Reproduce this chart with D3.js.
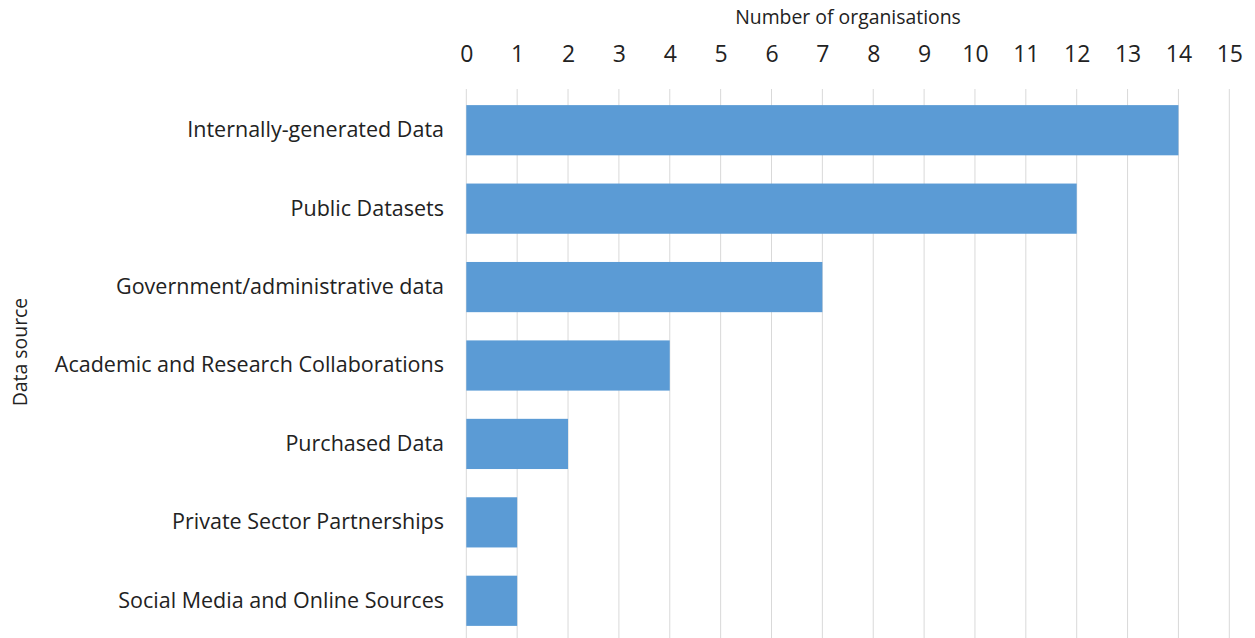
<!DOCTYPE html>
<html>
<head>
<meta charset="utf-8">
<script src="https://cdn.jsdelivr.net/npm/d3@7"></script>
<style>
  html, body { margin: 0; padding: 0; background: #fff; }
  svg text { font-family: "Open Sans", Lato, sans-serif; fill: #222; }
</style>
</head>
<body>
<svg id="chart" width="1255" height="638"></svg>
<script>
// Data sources used by organisations
const categories = [
  "Internally-generated Data",
  "Public Datasets",
  "Government/administrative data",
  "Academic and Research Collaborations",
  "Purchased Data",
  "Private Sector Partnerships",
  "Social Media and Online Sources"
];
const counts = [14, 12, 7, 4, 2, 1, 1];
const tickValues = [0, 1, 2, 3, 4, 5, 6, 7, 8, 9, 10, 11, 12, 13, 14, 15];

const svg = d3.select("#chart");

const x = d3.scaleLinear().domain([0, 15]).range([466.3, 1229.3]);
const y = d3.scaleBand().domain(categories).range([91, 640]).paddingInner(0.36).paddingOuter(0.18);

// vertical gridlines
svg.append("g")
  .selectAll("line")
  .data(tickValues)
  .join("line")
  .attr("x1", d => x(d)).attr("x2", d => x(d))
  .attr("y1", 89).attr("y2", 638)
  .attr("stroke", "#d9d9d9")
  .attr("stroke-width", 1);

// bars
svg.append("g")
  .selectAll("rect")
  .data(categories.map((c, i) => ({ c, v: counts[i] })))
  .join("rect")
  .attr("x", x(0))
  .attr("y", d => y(d.c))
  .attr("width", d => x(d.v) - x(0))
  .attr("height", y.bandwidth())
  .attr("fill", "#5b9bd5");

// top axis tick labels
const xAxis = d3.axisTop(x).tickValues(tickValues).tickSize(0).tickPadding(0).tickFormat(d3.format("d"));
const gx = svg.append("g").attr("transform", "translate(0,62)").call(xAxis);
gx.select(".domain").remove();
gx.selectAll("text").attr("font-size", 23).style("font-family", "'Open Sans', sans-serif").attr("fill", "#222");

// category labels
const yAxis = d3.axisLeft(y).tickSize(0).tickPadding(0);
const gy = svg.append("g").attr("transform", "translate(444,0)").call(yAxis);
gy.select(".domain").remove();
gy.selectAll("text").attr("font-size", 21.5).style("font-family", "'Open Sans', sans-serif").attr("fill", "#222");

// axis titles
svg.append("text")
  .attr("x", 848).attr("y", 24)
  .attr("text-anchor", "middle")
  .attr("font-size", 19.4)
  .text("Number of organisations");

svg.append("text")
  .attr("transform", "translate(27,352) rotate(-90)")
  .attr("text-anchor", "middle")
  .attr("font-size", 19.4)
  .text("Data source");
</script>
</body>
</html>
